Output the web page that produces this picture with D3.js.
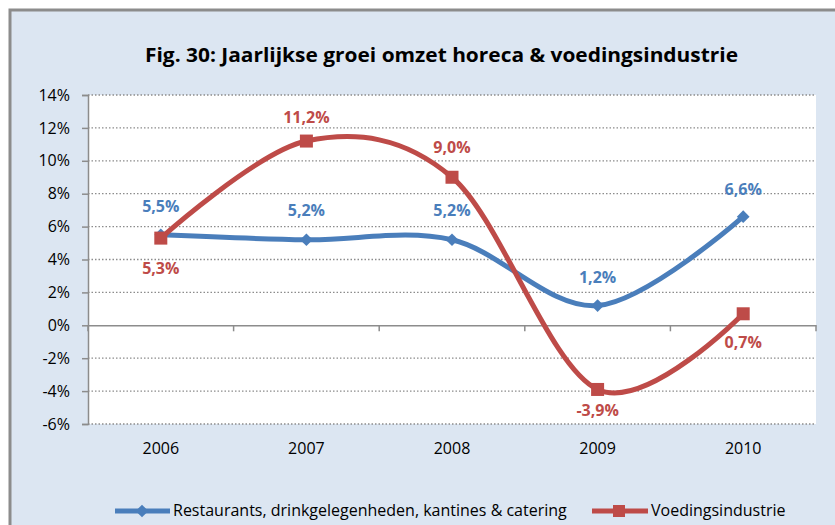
<!DOCTYPE html>
<html><head><meta charset="utf-8">
<script src="https://cdn.jsdelivr.net/npm/d3@7"></script>
<style>
html,body{margin:0;padding:0;background:#fff;}
svg{display:block;}
</style></head>
<body>
<svg id="chart" width="835" height="525"></svg>
<script>
const categories = ["2006","2007","2008","2009","2010"];
const restaurants = [5.5, 5.2, 5.2, 1.2, 6.6];
const voeding = [5.3, 11.2, 9.0, -3.9, 0.7];
const yTicks = [-6,-4,-2,0,2,4,6,8,10,12,14];
const seriesNames = ["Restaurants, drinkgelegenheden, kantines & catering","Voedingsindustrie"];
const titleText = "Fig. 30: Jaarlijkse groei omzet horeca & voedingsindustrie";

const blue = "#4A7EBB", red = "#BE4B48";
const font = "'Open Sans', 'Noto Sans', sans-serif";
const svg = d3.select("#chart");

// chart area background + border
svg.append("rect").attr("x",10).attr("y",10).attr("width",840).attr("height",530)
  .attr("fill","#DCE6F2").attr("stroke","#8C8C8C").attr("stroke-width",3);

const L=88, R=816, T=95, B=424;
svg.append("rect").attr("x",L).attr("y",T).attr("width",R-L).attr("height",B-T).attr("fill","#fff");

const x = d3.scaleBand().domain(categories).range([L,R]);
const y = d3.scaleLinear().domain([-6,14]).range([B,T]);
const fmt = v => (v<0?"-":"") + d3.format(".1f")(Math.abs(v)).replace(".",",")+"%";

// gridlines
svg.append("g").selectAll("line").data(yTicks.filter(d=>d!==0)).join("line")
  .attr("x1",L).attr("x2",R).attr("y1",d=>y(d)).attr("y2",d=>y(d))
  .attr("stroke","#8C8C8C").attr("stroke-width",1.3).attr("stroke-dasharray","1.5,2");

// y axis
const yAxis = svg.append("g").attr("transform",`translate(${L},0)`)
  .call(d3.axisLeft(y).tickValues(yTicks).tickFormat(d=>d+"%").tickSize(6).tickPadding(12));
yAxis.select(".domain").attr("stroke","#8C8C8C").attr("stroke-width",1.5);
yAxis.selectAll(".tick line").attr("stroke","#8C8C8C").attr("stroke-width",1.5);
yAxis.selectAll("text").attr("font-family",font).attr("font-size",16).attr("fill","#000");

// x axis at 0
const xAxis = svg.append("g").attr("transform",`translate(0,${y(0)})`)
  .call(d3.axisBottom(x).tickSize(0).tickSizeOuter(0));
xAxis.select(".domain").attr("stroke","#8C8C8C").attr("stroke-width",1.5);
xAxis.selectAll(".tick").remove();
const bounds = categories.map(c=>x(c)).concat([R]);
svg.append("g").selectAll("line").data(bounds).join("line")
  .attr("x1",d=>d).attr("x2",d=>d).attr("y1",y(0)).attr("y2",y(0)+6)
  .attr("stroke","#8C8C8C").attr("stroke-width",1.5);
// category labels at bottom
svg.append("g").selectAll("text").data(categories).join("text")
  .attr("x",d=>x(d)+x.bandwidth()/2).attr("y",454)
  .attr("text-anchor","middle").attr("font-family",font).attr("font-size",16).attr("fill","#000")
  .text(d=>d);

// lines
const line = d3.line().x((d,i)=>x(categories[i])+x.bandwidth()/2).y(d=>y(d)).curve(d3.curveCardinal.tension(0));
svg.append("path").datum(restaurants).attr("d",line).attr("fill","none").attr("stroke",blue).attr("stroke-width",5);
svg.append("path").datum(voeding).attr("d",line).attr("fill","none").attr("stroke",red).attr("stroke-width",5);

const cx = i => x(categories[i])+x.bandwidth()/2;
// markers
svg.append("g").selectAll("path").data(restaurants).join("path")
  .attr("transform",(d,i)=>`translate(${cx(i)},${y(d)}) rotate(45)`)
  .attr("d","M-4.5,-4.5H4.5V4.5H-4.5Z").attr("fill",blue);
svg.append("g").selectAll("rect").data(voeding).join("rect")
  .attr("x",(d,i)=>cx(i)-6.5).attr("y",d=>y(d)-6.5).attr("width",13).attr("height",13).attr("fill",red);

// data labels
const blueOff = [-28,-29,-29,-28,-27];
const redOff = [30,-24,-30,21,29];
svg.append("g").selectAll("text").data(restaurants).join("text")
  .attr("x",(d,i)=>cx(i)).attr("y",(d,i)=>y(d)+blueOff[i]).attr("dy","0.35em")
  .attr("text-anchor","middle").attr("font-family",font).attr("font-weight","bold").attr("font-size",16)
  .attr("fill",blue).text(fmt);
svg.append("g").selectAll("text").data(voeding).join("text")
  .attr("x",(d,i)=>cx(i)).attr("y",(d,i)=>y(d)+redOff[i]).attr("dy","0.35em")
  .attr("text-anchor","middle").attr("font-family",font).attr("font-weight","bold").attr("font-size",16)
  .attr("fill",red).text(fmt);

// title
svg.append("text").attr("x",441.5).attr("y",62).attr("text-anchor","middle")
  .attr("font-family",font).attr("font-weight","bold").attr("font-size",20).attr("fill","#000")
  .attr("textLength",593).attr("lengthAdjust","spacingAndGlyphs")
  .text(titleText);

// legend
const lg = svg.append("g");
lg.append("line").attr("x1",115).attr("x2",170).attr("y1",511).attr("y2",511).attr("stroke",blue).attr("stroke-width",5);
lg.append("path").attr("transform","translate(142,511) rotate(45)").attr("d","M-4.5,-4.5H4.5V4.5H-4.5Z").attr("fill",blue);
lg.append("text").attr("x",173).attr("y",516).attr("font-family",font).attr("font-size",16).attr("fill","#000")
  .text(seriesNames[0]);
lg.append("line").attr("x1",592).attr("x2",648).attr("y1",511).attr("y2",511).attr("stroke",red).attr("stroke-width",5);
lg.append("rect").attr("x",613).attr("y",505).attr("width",12).attr("height",12).attr("fill",red);
lg.append("text").attr("x",651).attr("y",516).attr("font-family",font).attr("font-size",16).attr("fill","#000")
  .text(seriesNames[1]);
</script>
</body></html>
